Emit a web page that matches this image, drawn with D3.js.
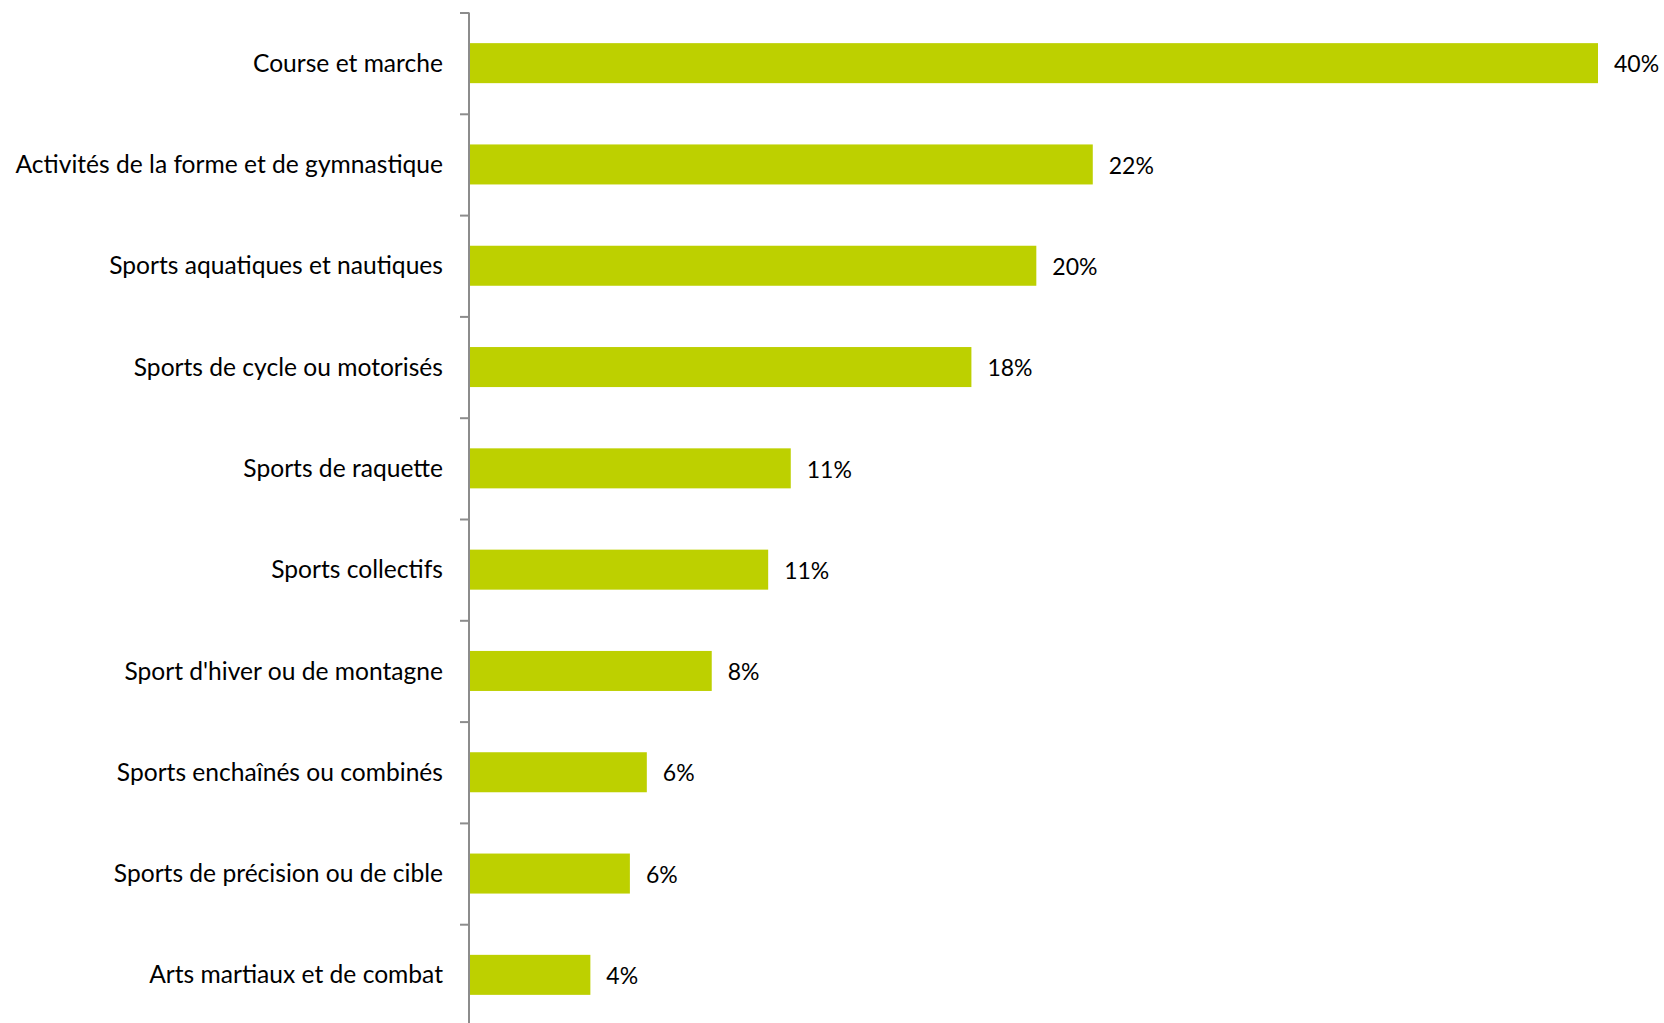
<!DOCTYPE html>
<html>
<head>
<meta charset="utf-8">
<script src="https://cdn.jsdelivr.net/npm/d3@7"></script>
<style>
  body { margin: 0; background: #fff; }
  text { font-family: Lato, "Noto Sans", sans-serif; fill: #000; }
</style>
</head>
<body>
<div id="chart"></div>
<script>
// activities, top to bottom
var categories = [
  "Course et marche",
  "Activités de la forme et de gymnastique",
  "Sports aquatiques et nautiques",
  "Sports de cycle ou motorisés",
  "Sports de raquette",
  "Sports collectifs",
  "Sport d'hiver ou de montagne",
  "Sports enchaînés ou combinés",
  "Sports de précision ou de cible",
  "Arts martiaux et de combat"
]
// shares in %
var values = [40, 22.1, 20.1, 17.8, 11.4, 10.6, 8.6, 6.3, 5.7, 4.3]
var valueLabels = ["40%", "22%", "20%", "18%", "11%", "11%", "8%", "6%", "6%", "4%"]

var width = 1664, height = 1023
var marginLeft = 469, marginTop = 12.5, step = 101.3

var svg = d3.select('#chart').append('svg')
  .attr('width', width)
  .attr('height', height)

var x = d3.scaleLinear()
  .domain([0, 40])
  .range([marginLeft, 1598])

var y = d3.scaleBand()
  .domain(categories)
  .range([marginTop, marginTop + step * categories.length])
  .paddingInner(0.605)
  .paddingOuter(0.3025)

// boundaries between categories, where excel puts its ticks
var yTicks = d3.scaleLinear()
  .domain([0, categories.length])
  .range([marginTop, marginTop + step * categories.length])

var axis = svg.append('g')
  .attr('transform', 'translate(' + marginLeft + ',0)')
  .call(d3.axisLeft(yTicks).ticks(categories.length).tickSize(9).tickSizeOuter(0).tickFormat(''))
axis.selectAll('.tick line').attr('stroke', '#8c8c8c').attr('stroke-width', 2)
// axis line runs on past the bottom edge
axis.select('.domain')
  .attr('stroke', '#8c8c8c').attr('stroke-width', 2)
  .attr('d', 'M0,' + marginTop + 'V' + height)

svg.selectAll('rect.bar')
  .data(values)
  .enter().append('rect')
  .attr('class', 'bar')
  .attr('x', x(0) + 1)
  .attr('y', function(d, i) { return y(categories[i]) })
  .attr('width', function(d) { return x(d) - x(0) - 1 })
  .attr('height', y.bandwidth())
  .attr('fill', '#bdd000')

svg.selectAll('text.cat')
  .data(categories)
  .enter().append('text')
  .attr('class', 'cat')
  .attr('x', marginLeft - 26)
  .attr('y', function(d) { return y(d) + y.bandwidth() / 2 })
  .attr('dy', '0.35em')
  .attr('text-anchor', 'end')
  .style('font-size', '24.6px')
  .text(function(d) { return d })

svg.selectAll('text.val')
  .data(values)
  .enter().append('text')
  .attr('class', 'val')
  .attr('x', function(d) { return x(d) + 16 })
  .attr('y', function(d, i) { return y(categories[i]) + y.bandwidth() / 2 })
  .attr('dy', '0.4em')
  .style('font-size', '23px')
  .text(function(d, i) { return valueLabels[i] })
</script>
</body>
</html>
